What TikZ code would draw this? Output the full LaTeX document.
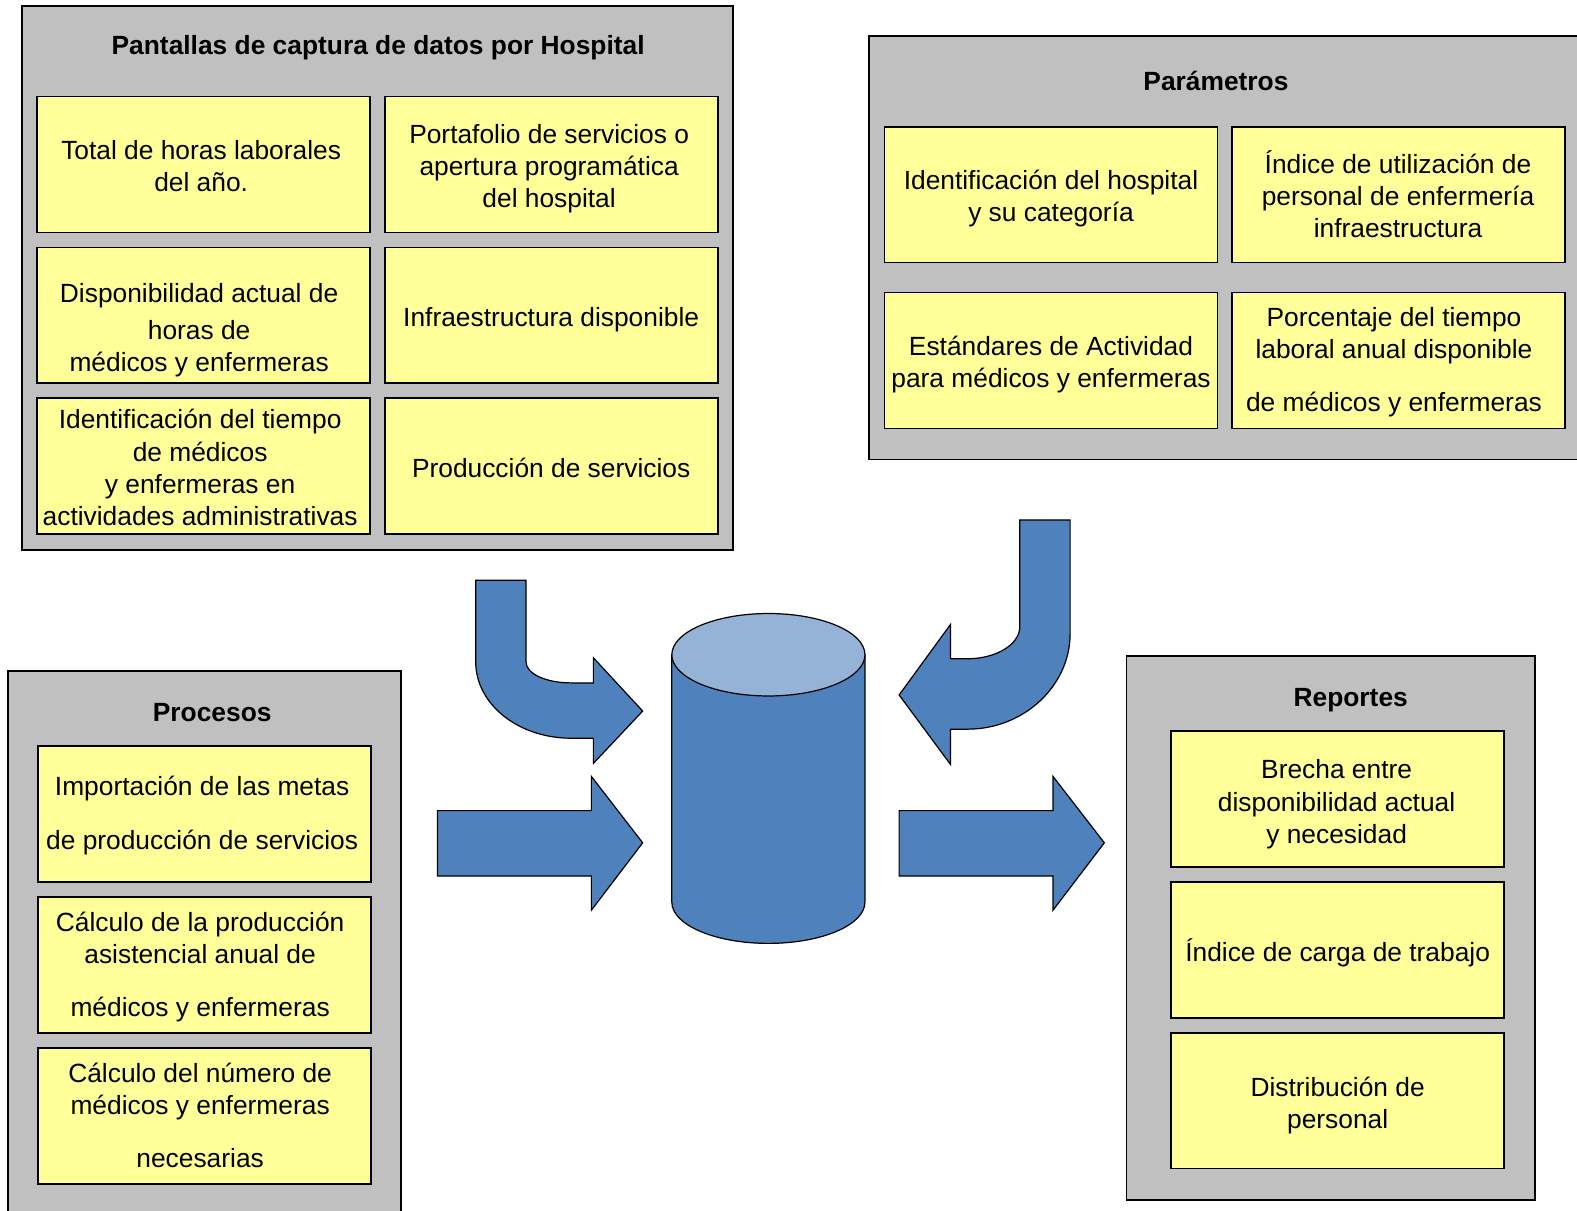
\documentclass[tikz,border=0pt]{standalone}
\usepackage{fontspec}
\setmainfont{Liberation Sans}
\definecolor{grayfill}{HTML}{C0C0C0}
\definecolor{yellowfill}{HTML}{FFFF99}
\definecolor{arrowblue}{HTML}{4F81BD}
\definecolor{cyltop}{HTML}{95B3D7}
\newcommand\mainsz{\fontsize{26.2}{32}\selectfont}
\tikzset{
  grp/.style={draw=black, line width=1.6pt, fill=grayfill, inner sep=0pt},
  ybox/.style={draw=black, line width=1.6pt, fill=yellowfill, minimum width=331pt, minimum height=135pt, inner sep=0pt},
  txt/.style={align=center, inner sep=0pt, font=\mainsz, yshift=-1pt},
  ttl/.style={align=center, inner sep=0pt, font=\mainsz\bfseries, yshift=-1pt},
  blk/.style={draw=black, line width=1.2pt, fill=arrowblue, line join=miter},
}
\begin{document}
\begin{tikzpicture}[x=1pt, y=-1pt]
\path[use as bounding box] (0,0) rectangle (1568,1204);
\clip (0,0) rectangle (1568,1204);

% ---------- Group 1: Pantallas ----------
\node[grp, minimum width=707pt, minimum height=541pt] (g1) at (375.5,276.5) {};
\node[ttl] (t1) at (376,47) {\strut Pantallas de captura de datos por Hospital};
\node[ybox] (a11) at (202.5,163.5) {};
\node[ybox] (a12) at (548.5,163.5) {};
\node[ybox] (a21) at (202.5,313.5) {};
\node[ybox] (a22) at (548.5,313.5) {};
\node[ybox] (a31) at (202.5,463.5) {};
\node[ybox] (a32) at (548.5,463.5) {};
\node[txt] (x11) at (200,167) {\strut Total de horas laborales\\\strut del año.};
\node[txt] (x12) at (546,167) {\strut Portafolio de servicios o\\\strut apertura programática\\\strut del hospital};
\node[txt] (x21) at (198,327.5) {\strut Disponibilidad actual de\\[5pt]\strut horas de\\\strut médicos y enfermeras};
\node[txt] (x22) at (548,317) {\strut Infraestructura disponible};
\node[txt] (x31) at (199,467) {\strut Identificación del tiempo\\\strut de médicos\\\strut y enfermeras en\\\strut actividades administrativas};
\node[txt] (x32) at (548,467) {\strut Producción de servicios};

% ---------- Group 2: Parámetros ----------
\node[grp, minimum width=730pt, minimum height=421pt] (g2) at (1229,246.5) {};
\node[ttl] (t2) at (1209,83) {\strut Parámetros};
\node[ybox] (b11) at (1045,193.5) {};
\node[ybox] (b12) at (1390.5,193.5) {};
\node[ybox] (b21) at (1045,358.5) {};
\node[ybox] (b22) at (1390.5,358.5) {};
\node[txt] (y11) at (1045,197) {\strut Identificación del hospital\\\strut y su categoría};
\node[txt] (y12) at (1390,197) {\strut Índice de utilización de\\\strut personal de enfermería\\\strut infraestructura};
\node[txt] (y21) at (1045,362) {\strut Estándares de Actividad\\\strut para médicos y enfermeras};
\node[txt] (y22) at (1386,359.5) {\strut Porcentaje del tiempo\\\strut laboral anual disponible\\[21pt]\strut de médicos y enfermeras};

% ---------- Group 3: Procesos ----------
\node[grp, minimum width=391pt, minimum height=560pt] (g3) at (203.5,947) {};
\node[ttl] (t3) at (211,710) {\strut Procesos};
\node[ybox] (c1) at (203.5,809.5) {};
\node[ybox] (c2) at (203.5,959.5) {};
\node[ybox] (c3) at (203.5,1109.5) {};
\node[txt] (z1) at (201,810.5) {\strut Importación de las metas\\[21pt]\strut de producción de servicios};
\node[txt] (z2) at (199,961) {\strut Cálculo de la producción\\\strut asistencial anual de\\[20pt]\strut médicos y enfermeras};
\node[txt] (z3) at (199,1111) {\strut Cálculo del número de\\\strut médicos y enfermeras\\[20pt]\strut necesarias};

% ---------- Group 4: Reportes ----------
\node[grp, minimum width=406pt, minimum height=541pt] (g4) at (1323,922.5) {};
\node[ttl] (t4) at (1343,695) {\strut Reportes};
\node[ybox] (d1) at (1330,794.5) {};
\node[ybox] (d2) at (1330,944.5) {};
\node[ybox] (d3) at (1330,1094.5) {};
\node[txt] (w1) at (1329,799) {\strut Brecha entre\\\strut disponibilidad actual\\\strut y necesidad};
\node[txt] (w2) at (1330,948) {\strut Índice de carga de trabajo};
\node[txt] (w3) at (1330,1099) {\strut Distribución de\\\strut personal};

% ---------- Arrows ----------
% top-left curved arrow
\draw[blk] (473,577) -- (523,577) -- (523,658)
  .. controls (523,670) and (543,679) .. (568,679)
  -- (590,679) -- (590,654) -- (639,707) -- (590,759) -- (590,734) -- (568,734)
  .. controls (515,734) and (473,700) .. (473,658) -- cycle;
% top-right curved arrow
\draw[blk] (1014,517) -- (1064,517) -- (1064,630)
  .. controls (1064,682) and (1018,725) .. (962,725)
  -- (945,725) -- (945,760) -- (894,691) -- (945,621) -- (945,655) -- (962,655)
  .. controls (990,655) and (1014,641) .. (1014,623) -- cycle;
% left straight arrow
\draw[blk] (435,806) -- (588,806) -- (588,772) -- (639,838) -- (588,905) -- (588,871) -- (435,871) -- cycle;
% right straight arrow
\draw[blk] (894,806) -- (1047,806) -- (1047,772) -- (1098,838) -- (1047,905) -- (1047,871) -- (894,871) -- cycle;

% ---------- Cylinder ----------
\coordinate (cyl) at (764,774);
\draw[blk] (668,651) -- (668,897) arc[start angle=180, end angle=0, x radius=96, y radius=41] -- (860,651) -- cycle;
\draw[draw=black, line width=1.2pt, fill=cyltop] (764,651) ellipse [x radius=96, y radius=41];
\end{tikzpicture}
\end{document}
